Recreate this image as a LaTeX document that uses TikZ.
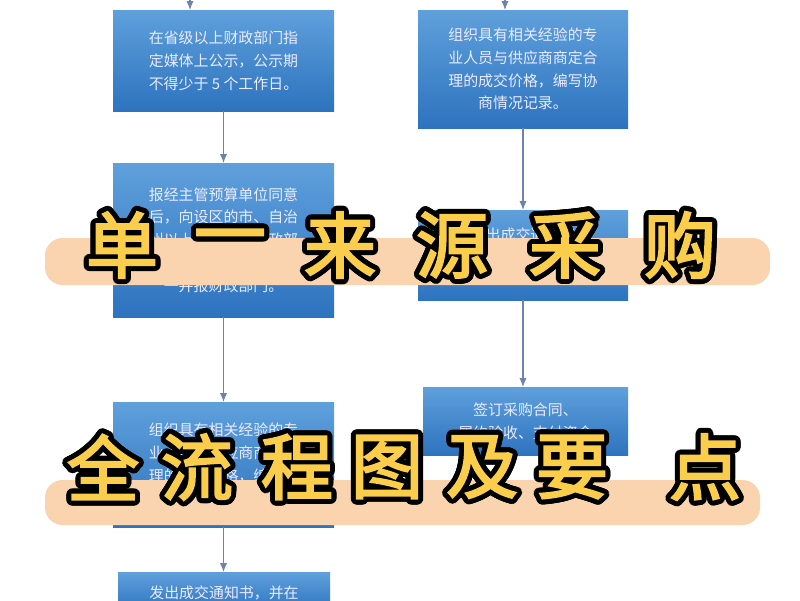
\documentclass[tikz,border=0pt]{standalone}
\usepackage{fontspec}
\setmainfont{Noto Sans CJK SC}
\newfontfamily\cjk{Noto Sans CJK SC}
\newfontfamily\cjkb[FakeBold=3]{Noto Sans CJK SC}
\usetikzlibrary{arrows.meta,calc}
\begin{document}
\begin{tikzpicture}[x=0.02cm,y=-0.02cm,
  btxt/.style={text=white!92!blue,font=\cjk\fontsize{8.5}{13}\selectfont,align=center},
  arr/.style={draw={rgb,255:red,110;green,130;blue,170},line width=0.6pt,-{Latex[length=5pt,width=4pt]}},
  band/.style={fill={rgb,255:red,250;green,212;blue,175},rounded corners=10pt},
  ttl/.style={font=\cjkb\fontsize{41}{43}\selectfont,inner sep=0pt}]
\useasboundingbox (0,0) rectangle (800,600);
\fill[white] (0,0) rectangle (800,600);
\def\bx#1#2#3#4#5{\shade[top color={rgb,255:red,95;green,160;blue,220},bottom color={rgb,255:red,45;green,115;blue,190}] (#2,#3) rectangle (#4,#5); \node[inner sep=0pt] (#1) at ({(#2+#4)/2},{(#3+#5)/2}) {};
 \coordinate (#1t) at ({(#2+#4)/2},#3); \coordinate (#1b) at ({(#2+#4)/2},#5);}
\bx{L1}{113}{10}{334}{111}
\bx{L2}{113}{163}{334}{317}
\bx{L3}{113}{402}{334}{527}
\bx{L4}{118}{572}{330}{612}
\bx{R1}{418}{10}{628}{128}
\bx{R2}{418}{210}{628}{300}
\bx{R3}{423}{387}{628}{455}
\node[btxt] at (L1) {在省级以上财政部门指\\定媒体上公示，公示期\\不得少于 5 个工作日。};
\node[btxt] at (L2) {报经主管预算单位同意\\后，向设区的市、自治\\州以上人民政府财政部\\门提出申请，连同意见\\一并报财政部门。};
\node[btxt] at (L3) {组织具有相关经验的专\\业人员与供应商商定合\\理的成交价格，编写协\\商情况记录。};
\node[btxt,anchor=north] at (224,580) {发出成交通知书，并在};
\node[btxt] at (R1) {组织具有相关经验的专\\业人员与供应商商定合\\理的成交价格，编写协\\商情况记录。};
\node[btxt,anchor=north] at (523,222) {发出成交通知书};
\node[btxt] at (R3) {签订采购合同、\\履约验收、支付资金};
\coordinate (t1) at (190,0); \coordinate (t1e) at (190,10);
\coordinate (t2) at (505,0); \coordinate (t2e) at (505,10);
\draw[arr] (t1) -- (t1e);
\draw[arr] (t2) -- (t2e);
\draw[arr] (L1b) -- (L2t);
\draw[arr] (L2b) -- (L3t);
\draw[arr] (L3b) -- (L3b |- L4t);
\draw[arr] (R1b) -- (R2t);
\draw[arr] (R2b) -- (R2b |- R3t);
\fill[band] (45,238) rectangle (770,285);
\fill[band] (45,480) rectangle (760,525);
\def\outl#1#2#3{\foreach \a in {0,15,...,345}{\node[ttl,text=black] at ($(#1,#2)+(\a:5)$) {#3};}
  \node[ttl,text={rgb,255:red,250;green,205;blue,75}] at (#1,#2) {#3};}
\outl{122}{245}{单}\outl{230}{245}{一}\outl{340}{245}{来}\outl{452}{245}{源}\outl{565}{245}{采}\outl{680}{245}{购}
\outl{103}{467}{全}\outl{197}{467}{流}\outl{297}{467}{程}\outl{387}{467}{图}\outl{482}{467}{及}\outl{572}{467}{要}\outl{705}{467}{点}
\end{tikzpicture}
\end{document}
